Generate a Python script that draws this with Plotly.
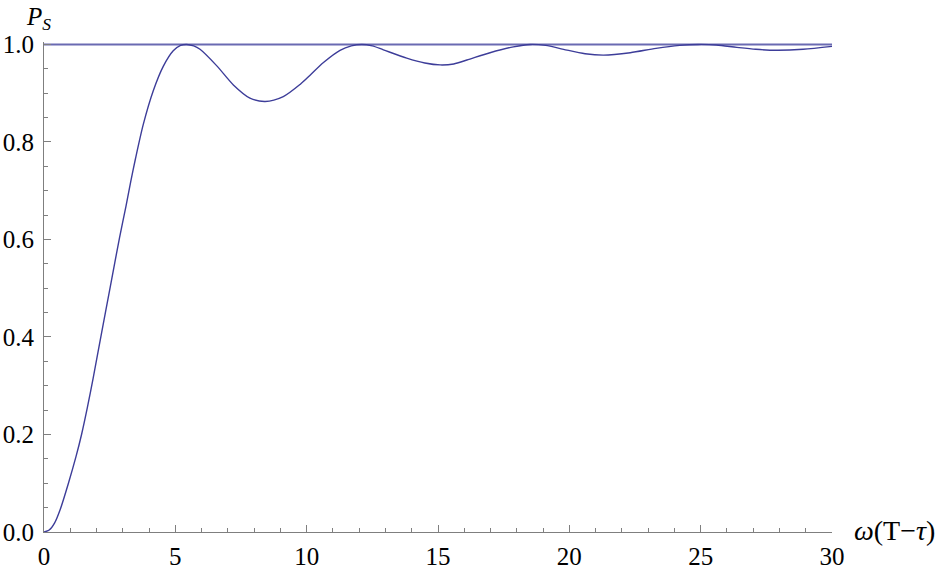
import plotly.graph_objects as go

# values
x_vals = [0, 0.2, 0.4, 0.61, 0.93, 1.22, 1.43, 1.65, 1.87, 2.18, 2.53, 2.88, 3.12, 3.30, 3.48,
          3.78, 4.16, 4.54, 4.92, 5.20, 5.43, 5.70, 5.94, 6.58, 7.21, 7.84, 8.42, 9.11,
          9.75, 10.13, 10.64, 11.27, 11.70, 12.10, 12.50, 12.92, 13.81, 14.50, 15.08,
          15.60, 16.10, 16.98, 17.87, 18.51, 19.10, 19.78, 20.60, 21.30, 22.32, 23.30,
          24.20, 24.90, 25.60, 26.38, 27.10, 27.90, 28.90, 30.0]
p_vals = [0, 0.004, 0.018, 0.045, 0.10, 0.155, 0.20, 0.255, 0.315, 0.405, 0.505, 0.605, 0.668,
          0.718, 0.765, 0.836, 0.905, 0.955, 0.987, 0.998, 1.0, 0.997, 0.990, 0.956, 0.917, 0.890,
          0.883, 0.893, 0.918, 0.937, 0.963, 0.988, 0.997, 1.0, 0.997, 0.989, 0.972, 0.962,
          0.958, 0.960, 0.968, 0.983, 0.995, 1.0, 0.998, 0.990, 0.981, 0.978, 0.983, 0.992,
          0.998, 1.0, 0.999, 0.994, 0.990, 0.988, 0.990, 0.996]

line_x = [0, 30]
line_y = [1, 1]

x_ticks = [0, 5, 10, 15, 20, 25, 30]
y_ticks = [0.0, 0.2, 0.4, 0.6, 0.8, 1.0]
y_labels = ['0.0', '0.2', '0.4', '0.6', '0.8', '1.0']

font_family = 'Liberation Serif, Times New Roman, Times, serif'
axis_col = '#7f7f7f'
curve_col = '#3d3d99'

fig = go.Figure()
fig.add_trace(go.Scatter(x=line_x, y=line_y, mode='lines',
                         line=dict(color='#6a6ab2', width=2), hoverinfo='skip'))
fig.add_trace(go.Scatter(x=x_vals, y=p_vals, mode='lines',
                         line=dict(color=curve_col, width=1.4, shape='spline', smoothing=0.8)))

fig.update_layout(
    width=943, height=568,
    margin=dict(l=44, r=111, t=42, b=36),
    paper_bgcolor='white', plot_bgcolor='white',
    showlegend=False,
    font=dict(family=font_family, size=25, color='black'),
)
fig.update_xaxes(range=[0, 30], showgrid=False, zeroline=False, automargin=False,
                 showline=True, linecolor=axis_col, linewidth=1,
                 ticks='inside', ticklen=7, tickcolor=axis_col, tickwidth=1,
                 tickvals=x_ticks, ticklabelstandoff=2,
                 tickfont=dict(family=font_family, size=25, color='black'),
                 minor=dict(dtick=1, ticks='inside', ticklen=4, tickcolor=axis_col, tickwidth=1))
fig.update_yaxes(range=[0, 1.005], showgrid=False, zeroline=False, automargin=False,
                 showline=True, linecolor=axis_col, linewidth=1,
                 ticks='inside', ticklen=7, tickcolor=axis_col, tickwidth=1,
                 tickvals=y_ticks, ticktext=y_labels, ticklabelstandoff=4,
                 tickfont=dict(family=font_family, size=25, color='black'),
                 minor=dict(dtick=0.05, ticks='inside', ticklen=4, tickcolor=axis_col, tickwidth=1))

fig.add_annotation(text='<i>P</i><sub><i>S</i></sub>', xref='paper', yref='paper',
                   x=0, y=1, xanchor='left', yanchor='bottom', xshift=-20, yshift=6,
                   showarrow=False, font=dict(family=font_family, size=25, color='black'))
fig.add_annotation(text='<i>ω</i>(T−<i>τ</i>)', xref='paper', yref='paper',
                   x=1, y=0, xanchor='left', yanchor='middle', xshift=20, yshift=2,
                   showarrow=False, font=dict(family=font_family, size=28, color='black'))

# drop the default 8px page margin so the figure fills the window exactly
fig.write_html('out.html', config={'displayModeBar': False},
               post_script="document.body.style.margin='0';")
